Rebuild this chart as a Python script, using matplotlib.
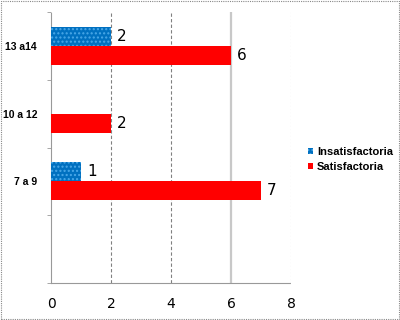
import numpy as np
import matplotlib
matplotlib.use("Agg")
import matplotlib.pyplot as plt
from matplotlib.patches import Rectangle

categories = ["", "7 a 9", "10 a 12", "13 a14"]
insatisfactoria = [np.nan, 1, 0, 2]
satisfactoria = [np.nan, 7, 2, 6]
xticks = [0, 2, 4, 6, 8]

plt.rcParams["hatch.linewidth"] = 1.0

fig = plt.figure(figsize=(4, 3.2), dpi=100)
fig.patches.append(Rectangle((0.003, 0.003), 0.994, 0.994, transform=fig.transFigure,
                             fill=False, edgecolor="#888888", linestyle=(0, (1, 1)), lw=0.8))
ax = fig.add_axes([0.1275, 0.1156, 0.6, 0.8469])

y = np.arange(len(categories))
h = 0.28
b1 = ax.barh(y + h / 2, insatisfactoria, height=h, color="#0070C0",
             edgecolor="#4aa8e8", hatch="....", linewidth=0, label="Insatisfactoria", zorder=3)
b2 = ax.barh(y - h / 2, satisfactoria, height=h, color="#FF0000",
             linewidth=0, label="Satisfactoria", zorder=3)

for bars, vals in ((b1, insatisfactoria), (b2, satisfactoria)):
    for r, v in zip(bars, vals):
        if np.isnan(v) or v == 0:
            continue
        ax.text(v + 0.2, r.get_y() + r.get_height() / 2, str(v), va="center", ha="left",
                fontsize=11, fontfamily="DejaVu Sans")

ax.set_xlim(0, 8)
ax.set_ylim(-0.5, len(categories) - 0.5)
ax.set_xticks(xticks)
ax.tick_params(axis="x", length=0, labelsize=10, pad=10)
ax.set_yticks(y)
ax.set_yticklabels(categories, fontsize=7.5, fontweight="bold", fontfamily="Liberation Sans")
ax.tick_params(axis="y", length=0, pad=10)
ax.set_yticks(np.arange(-0.5, len(categories), 1), minor=True)
ax.tick_params(axis="y", which="minor", length=3, color="#999999", direction="out")

for v in xticks[1:]:
    if v == 6:
        ax.axvline(v, color="#c8c8c8", lw=1.6, zorder=1)
    elif v == 8:
        ax.axvline(v, color="#bbbbbb", lw=0.8, linestyle=(0, (1, 2)), zorder=1)
    else:
        ax.axvline(v, color="#808080", lw=0.8, linestyle=(0, (3, 2)), zorder=1)

for s in ("top", "right"):
    ax.spines[s].set_visible(False)
for s in ("left", "bottom"):
    ax.spines[s].set_color("#999999")
    ax.spines[s].set_linestyle((0, (1, 1)))
    ax.spines[s].set_linewidth(0.8)

leg = fig.legend(handles=[b1, b2], labels=["Insatisfactoria", "Satisfactoria"],
                 loc="upper left", bbox_to_anchor=(0.76, 0.555), frameon=False,
                 prop={"size": 8, "weight": "bold", "family": "Liberation Sans"},
                 handlelength=0.45, handleheight=0.45,
                 handletextpad=0.3, labelspacing=0.5, borderaxespad=0)

fig.savefig("out.png", dpi=100)
